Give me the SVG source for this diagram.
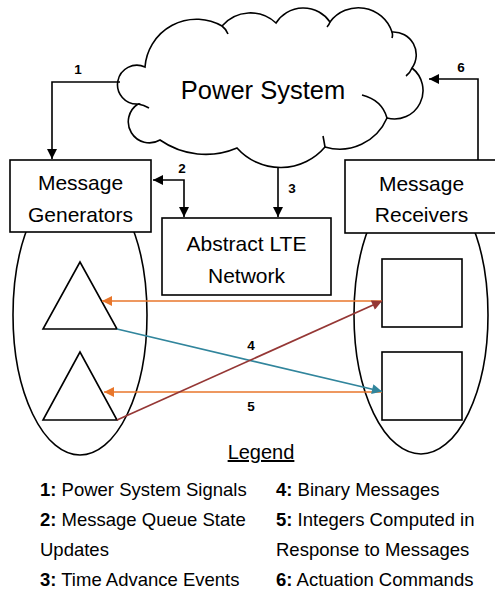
<svg xmlns="http://www.w3.org/2000/svg" width="495" height="592" viewBox="0 0 495 592">
<style>
.ln{fill:none;stroke:#000;stroke-width:1.6}
.box{fill:#fff;stroke:#000;stroke-width:1.6}
.shp{fill:none;stroke:#000;stroke-width:1.6}
.t{font-family:"Liberation Sans",Arial,sans-serif;fill:#000}
.bt{font-size:21px;text-anchor:middle}
.lbl{font-size:13.5px;font-weight:bold;text-anchor:middle}
.leg{font-size:18.5px}
.b{font-weight:bold}
</style>
<defs>
<marker id="ak" viewBox="0 0 10 10" refX="10" refY="5" markerUnits="userSpaceOnUse" markerWidth="12" markerHeight="10" orient="auto-start-reverse"><path d="M0,0 L10,5 L0,10 z" fill="#000"/></marker>
<marker id="ao" viewBox="0 0 10 10" refX="10" refY="5" markerUnits="userSpaceOnUse" markerWidth="11" markerHeight="10" orient="auto"><path d="M0,0 L10,5 L0,10 z" fill="#E8762B"/></marker>
<marker id="at" viewBox="0 0 10 10" refX="10" refY="5" markerUnits="userSpaceOnUse" markerWidth="11" markerHeight="10" orient="auto"><path d="M0,0 L10,5 L0,10 z" fill="#31859C"/></marker>
<marker id="ar" viewBox="0 0 10 10" refX="10" refY="5" markerUnits="userSpaceOnUse" markerWidth="11" markerHeight="10" orient="auto"><path d="M0,0 L10,5 L0,10 z" fill="#953735"/></marker>
</defs>

<g id="generators-group">
<ellipse class="shp" cx="80" cy="315" rx="67" ry="140"/>
<path id="tri1" class="shp" d="M80,262 L43,329 L117,329 Z"/>
<path id="tri2" class="shp" d="M80,352 L43,420 L117,420 Z"/>
</g>
<g id="receivers-group">
<ellipse class="shp" cx="421" cy="315" rx="67" ry="139"/>
<rect id="sq1" class="shp" x="382" y="259" width="80" height="68"/>
<rect id="sq2" class="shp" x="382" y="352" width="80" height="68"/>
</g>

<g id="power-system">
<path class="shp" d="M145,67 A51.6,51.6 0 0 1 222,26 A37.4,37.4 0 0 1 276,23 A32.4,32.4 0 0 1 330,22 A35.4,35.4 0 0 1 392,32 A22.8,22.8 0 0 1 412,68 A28.5,28.5 0 0 1 387,118 A51.5,51.5 0 0 1 325,147 A58.4,58.4 0 0 1 237,148 A80,80 0 0 1 160,140 A21.1,21.1 0 0 1 138,104 A19.4,19.4 0 1 1 145,67 Z"/>
<path class="shp" d="M222,26 q4,3 6,8 M330,22 q-1,3 -3,5 M392,32 q1,3 0,6 M412,68 q-2,5 -6,8 M362,95 q20,5 25,23 M325,147 q-1,-6 -2,-11 M138,104 q6,1 11,4"/>
<text class="t" x="263" y="99" font-size="25.5" text-anchor="middle">Power System</text>
</g>

<g id="message-generators">
<rect class="box" x="10" y="160" width="141" height="72"/>
<text class="t bt" x="80.5" y="190">Message</text>
<text class="t bt" x="80.5" y="222">Generators</text>
</g>

<g id="lte-network">
<rect class="box" x="162" y="218" width="169" height="77"/>
<text class="t bt" x="246.5" y="251">Abstract LTE</text>
<text class="t bt" x="246.5" y="283">Network</text>
</g>

<g id="message-receivers">
<rect class="box" x="345" y="160" width="160" height="73"/>
<text class="t bt" x="421.5" y="191">Message</text>
<text class="t bt" x="421.5" y="222">Receivers</text>
</g>

<g id="connectors">
<path class="ln" d="M120,82 H52 V159" marker-end="url(#ak)"/>
<path class="ln" d="M153,180 H184 V217" marker-start="url(#ak)" marker-end="url(#ak)"/>
<path class="ln" d="M278,168 V217" marker-end="url(#ak)"/>
<path class="ln" d="M478,160 V79 H429" marker-end="url(#ak)"/>
<line x1="382" y1="301" x2="102" y2="301" stroke="#E8762B" stroke-width="1.7" marker-end="url(#ao)"/>
<line x1="382" y1="392" x2="104" y2="392" stroke="#E8762B" stroke-width="1.7" marker-end="url(#ao)"/>
<line x1="117" y1="329" x2="382" y2="391.5" stroke="#31859C" stroke-width="1.7" marker-end="url(#at)"/>
<line x1="117" y1="420" x2="382" y2="301" stroke="#953735" stroke-width="1.7" marker-end="url(#ar)"/>
<text class="t lbl" x="78" y="74">1</text>
<text class="t lbl" x="182" y="173">2</text>
<text class="t lbl" x="292" y="193">3</text>
<text class="t lbl" x="251" y="350">4</text>
<text class="t lbl" x="251" y="411">5</text>
<text class="t lbl" x="461" y="72">6</text>
</g>

<g id="legend">
<text class="t" x="261" y="459" font-size="20" text-anchor="middle" text-decoration="underline">Legend</text>
<text class="t leg" x="40" y="496"><tspan class="b">1:</tspan> Power System Signals</text>
<text class="t leg" x="40" y="526"><tspan class="b">2:</tspan> Message Queue State</text>
<text class="t leg" x="40" y="555.5">Updates</text>
<text class="t leg" x="40" y="586"><tspan class="b">3:</tspan> Time Advance Events</text>
<text class="t leg" x="276" y="496"><tspan class="b">4:</tspan> Binary Messages</text>
<text class="t leg" x="276" y="526"><tspan class="b">5:</tspan> Integers Computed in</text>
<text class="t leg" x="276" y="555.5">Response to Messages</text>
<text class="t leg" x="276" y="586"><tspan class="b">6:</tspan> Actuation Commands</text>
</g>
</svg>
